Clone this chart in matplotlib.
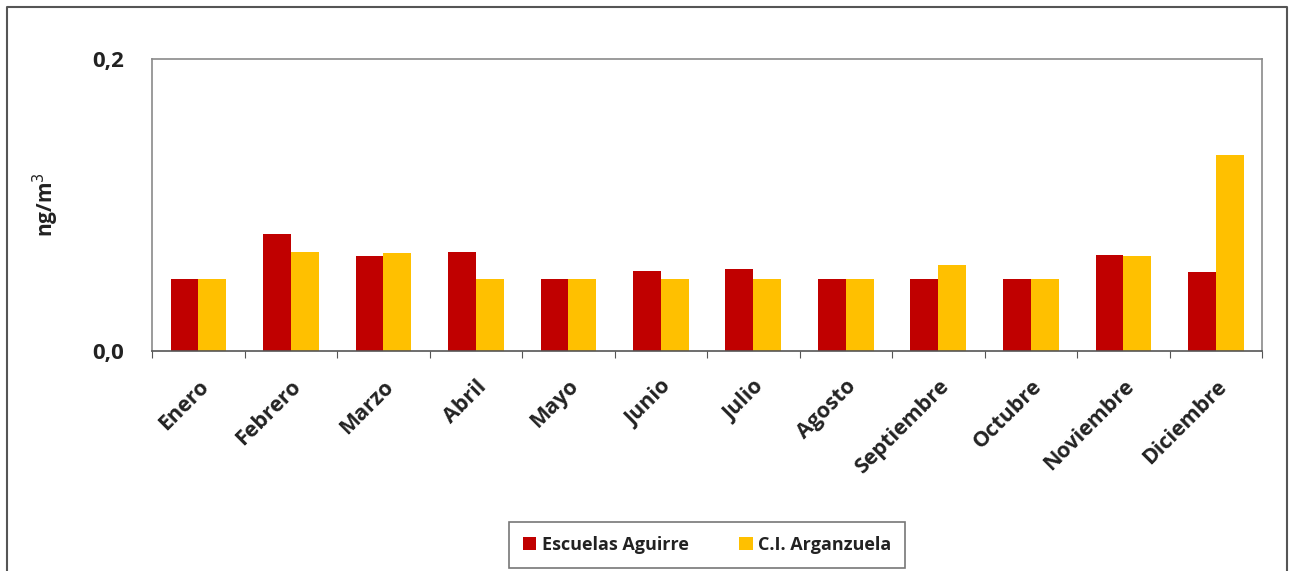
import numpy as np
import matplotlib.pyplot as plt
from matplotlib.lines import Line2D

months = ['Enero', 'Febrero', 'Marzo', 'Abril', 'Mayo', 'Junio', 'Julio',
          'Agosto', 'Septiembre', 'Octubre', 'Noviembre', 'Diciembre']
aguirre = [0.049, 0.080, 0.065, 0.068, 0.049, 0.055, 0.056,
           0.049, 0.049, 0.049, 0.066, 0.054]
arganzuela = [0.049, 0.068, 0.067, 0.049, 0.049, 0.049, 0.049,
              0.049, 0.059, 0.049, 0.065, 0.134]
series_names = ['Escuelas Aguirre', 'C.I. Arganzuela']

plt.rcParams['font.family'] = ['Open Sans', 'DejaVu Sans']

fig = plt.figure(figsize=(12.93, 5.71), dpi=100)
ax = fig.add_axes([152 / 1293, 1 - 351 / 571, 1110 / 1293, 292 / 571])

x = np.arange(len(months))
w = 0.3
ax.bar(x - w / 2, aguirre, w, color='#C00000', label=series_names[0])
ax.bar(x + w / 2, arganzuela, w, color='#FFC000', label=series_names[1])

ax.set_xlim(-0.5, len(months) - 0.5)
ax.set_ylim(0, 0.2)
ax.set_yticks([0, 0.2])
ax.set_yticklabels(['0,0', '0,2'], fontsize=16, fontweight='bold', color='#222222')
ax.tick_params(axis='y', length=0, pad=20)

# category ticks sit between groups
ax.set_xticks(np.arange(len(months) + 1) - 0.5)
ax.set_xticklabels([])
ax.set_xticks(x, minor=True)
ax.set_xticklabels(months, minor=True, rotation=45, ha='right',
                   rotation_mode='anchor', fontsize=15.5, fontweight='bold',
                   color='#222222')
ax.tick_params(axis='x', which='major', direction='out', length=5, color='#555555')
ax.tick_params(axis='x', which='minor', length=0, pad=18)

for s in ax.spines.values():
    s.set_color('#8a8a8a')
    s.set_linewidth(1.2)
ax.spines['bottom'].set_color('#555555')

ax.set_ylabel('ng/m$^3$', fontsize=15, fontweight='bold', color='#222222')
ax.yaxis.set_label_coords(-0.082, 0.5)

# outer chart border
fx0, fx1, fy1 = 7 / 1293, 1287 / 1293, 1 - 7 / 571
fig.add_artist(Line2D([fx0, fx0, fx1, fx1], [0, fy1, fy1, 0],
                      transform=fig.transFigure, color='#555555', lw=1.5))

leg = fig.legend(loc='center', bbox_to_anchor=(707 / 1293, 1 - 545 / 571),
                 ncol=2, frameon=True, fancybox=False,
                 prop={'weight': 'bold', 'size': 13}, handlelength=0.75,
                 handleheight=0.75, columnspacing=2.8, borderpad=0.75,
                 borderaxespad=0, handletextpad=0.3)
leg.get_frame().set_edgecolor('#555555')
leg.get_frame().set_linewidth(1.2)
for t in leg.get_texts():
    t.set_color('#222222')

fig.savefig('out.png', dpi=100)
